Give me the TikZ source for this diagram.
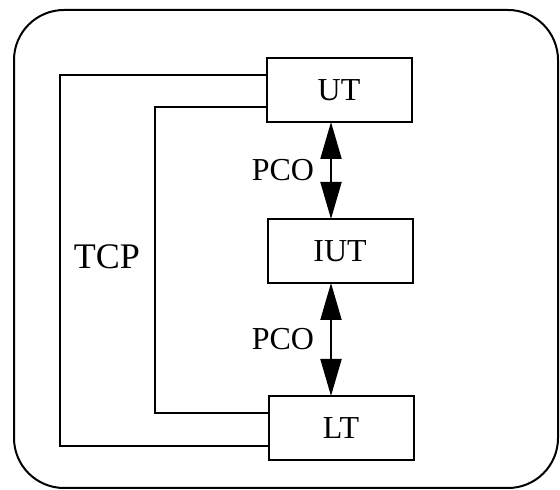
\documentclass[tikz,border=0pt]{standalone}
\usepackage{fontspec}
\setmainfont{Liberation Serif}
\usetikzlibrary{arrows.meta,calc}

\begin{document}
\begin{tikzpicture}[
  x=0.5pt,y=0.5pt,
  tester/.style={draw,line width=1pt,outer sep=0pt,minimum width=72.5pt,minimum height=32pt,inner sep=0pt,font=\fontsize{16}{18}\selectfont},
  pco/.style={{Triangle[length=18.5pt,width=10.5pt]}-{Triangle[length=18.5pt,width=10.5pt]},line width=1pt},
  lbl/.style={font=\fontsize{16}{18}\selectfont,inner sep=2pt},
  link/.style={line width=1pt}]
  \useasboundingbox (0,0) rectangle (560,490);
  \draw[line width=1pt,rounded corners=25pt] (14,2) rectangle (558,480);
  \node[tester] (ut) at (339,400) {UT};
  \node[tester] (iut) at (340,239) {IUT};
  \node[tester] (lt) at (341,62) {LT};
  \coordinate (axis) at (331,0);
  \draw[pco] (axis |- ut.south) -- (axis |- iut.north) node[lbl,midway,left=6pt] (pcoa) {PCO};
  \draw[pco] (axis |- iut.south) -- (axis |- lt.north) node[lbl,midway,left=6pt] (pcob) {PCO};
  \draw[link] ($(ut.north west)!0.27!(ut.south west)$) -- ++(-207,0) |- ($(lt.north west)!0.78!(lt.south west)$);
  \draw[link] ($(ut.north west)!0.77!(ut.south west)$) -- ++(-112,0) |- ($(lt.north west)!0.27!(lt.south west)$);
  \node[font=\fontsize{18}{20}\selectfont] (tcp) at (107,233) {TCP};
\end{tikzpicture}
\end{document}
